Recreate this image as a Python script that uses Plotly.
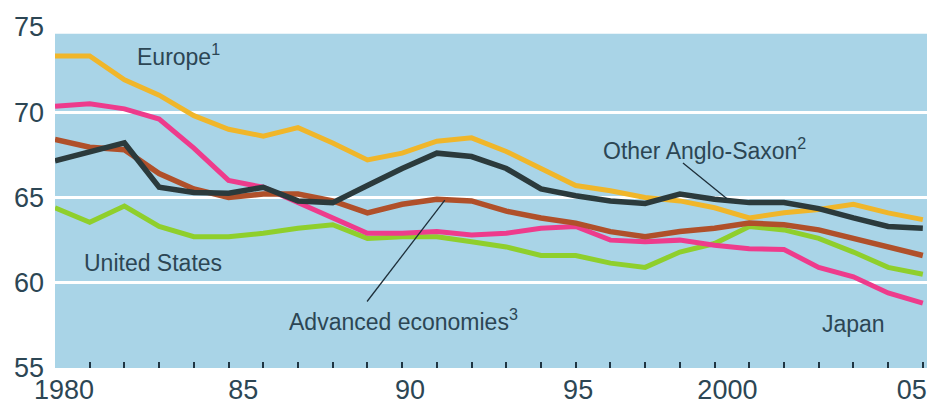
import plotly.graph_objects as go

# ---- data ----
years = list(range(1980, 2006))
europe = [73.3, 73.3, 71.9, 71.0, 69.8, 69.0, 68.6, 69.1, 68.2, 67.2, 67.6, 68.3, 68.5,
          67.7, 66.7, 65.7, 65.4, 65.0, 64.8, 64.4, 63.8, 64.1, 64.3, 64.6, 64.1, 63.7]
japan = [70.35, 70.5, 70.2, 69.6, 67.9, 66.0, 65.6, 64.7, 63.8, 62.9, 62.9, 63.0, 62.8,
         62.9, 63.2, 63.3, 62.5, 62.4, 62.5, 62.2, 62.0, 61.95, 60.9, 60.35, 59.4, 58.8]
advanced = [68.4, 67.95, 67.8, 66.4, 65.5, 65.0, 65.2, 65.2, 64.8, 64.1, 64.6, 64.9, 64.8,
            64.2, 63.8, 63.5, 63.0, 62.7, 63.0, 63.2, 63.5, 63.4, 63.1, 62.6, 62.1, 61.6]
anglo = [67.15, 67.7, 68.2, 65.6, 65.3, 65.25, 65.6, 64.8, 64.7, 65.7, 66.7, 67.6, 67.4,
         66.7, 65.5, 65.1, 64.8, 64.65, 65.2, 64.9, 64.7, 64.7, 64.35, 63.8, 63.3, 63.2]
us = [64.4, 63.55, 64.5, 63.3, 62.7, 62.7, 62.9, 63.2, 63.4, 62.6, 62.7, 62.7, 62.4,
      62.1, 61.6, 61.6, 61.15, 60.9, 61.8, 62.3, 63.3, 63.1, 62.6, 61.8, 60.9, 60.5]

y_ticks = [55, 60, 65, 70, 75]
x_label_years = ["1980", "85", "90", "95", "2000", "05"]

# ---- styling / layout constants ----
FONT = "Liberation Sans, Arial, sans-serif"
TXT = "#2c4654"
BG = "#a9d4e7"
x_label_pos = [1980.26, 1985.42, 1990.23, 1995.07, 1999.37, 2004.68]
XMAX = 2005.12
BLUE_TOP = 74.6

fig = go.Figure()
series = [
    ("United States", us, "#8fcf2c", 5),
    ("Europe", europe, "#f0b62a", 5),
    ("Japan", japan, "#ee3b8c", 5),
    ("Advanced economies", advanced, "#b0502a", 5.5),
    ("Other Anglo-Saxon", anglo, "#2b3a3c", 5.5),
]
for name, vals, col, w in series:
    fig.add_trace(go.Scatter(x=years, y=vals, mode="lines", name=name,
                             line=dict(color=col, width=w), showlegend=False,
                             hoverinfo="skip"))

# invisible trace so the overlay label axis is drawn
fig.add_trace(go.Scatter(x=[years[0]], y=[y_ticks[0]], xaxis="x2", mode="markers",
                         marker=dict(opacity=0), showlegend=False, hoverinfo="skip"))

shapes = [
    dict(type="rect", xref="x", yref="y", x0=1980, x1=XMAX, y0=55, y1=BLUE_TOP,
         fillcolor=BG, line=dict(width=0), layer="below"),
    dict(type="rect", xref="x", yref="y", x0=1980, x1=XMAX, y0=55, y1=55.15,
         fillcolor=BG, line=dict(width=0), layer="between"),
    dict(type="line", xref="x", yref="y", x0=1988.99, y0=58.9, x1=1991.23, y1=64.85,
         line=dict(color="#1e2f3a", width=1.3)),
    dict(type="line", xref="x", yref="y", x0=1998.09, y0=67.03, x1=1999.35, y1=64.94,
         line=dict(color="#1e2f3a", width=1.3)),
]

ann_font = dict(family=FONT, size=23, color=TXT)
annotations = [
    dict(x=1982.3, y=73.35, text="Europe<sup>1</sup>"),
    dict(x=1980.78, y=61.15, text="United States"),
    dict(x=1986.68, y=57.8, text="Advanced economies<sup>3</sup>"),
    dict(x=1995.72, y=67.85, text="Other Anglo-Saxon<sup>2</sup>"),
    dict(x=2002.03, y=57.6, text="Japan"),
]
for a in annotations:
    a.update(xref="x", yref="y", xanchor="left", yanchor="middle",
             showarrow=False, font=ann_font)

fig.update_layout(
    width=927, height=405,
    margin=dict(l=55, r=0, t=27, b=37),
    paper_bgcolor="white", plot_bgcolor="white",
    shapes=shapes, annotations=annotations,
    xaxis=dict(range=[1980, XMAX], tickmode="array", tickvals=years,
               showticklabels=False, ticks="inside", ticklen=6, tickwidth=2,
               tickcolor="#1f3542", layer="above traces",
               showgrid=False, zeroline=False, showline=False),
    xaxis2=dict(overlaying="x", side="bottom", range=[1980, XMAX],
                tickmode="array", tickvals=x_label_pos, ticktext=x_label_years,
                ticks="", ticklabelstandoff=3, showgrid=False, zeroline=False,
                showline=False, tickfont=dict(family=FONT, size=27, color=TXT)),
    yaxis=dict(range=[55, 75], tickmode="array", tickvals=y_ticks,
               ticktext=[str(v) for v in y_ticks], showgrid=True,
               gridcolor="white", gridwidth=3, zeroline=False, showline=False,
               ticks="", ticklabelstandoff=10,
               tickfont=dict(family=FONT, size=27, color=TXT)),
)

fig.write_html("out.html", config={"displayModeBar": False},
               post_script="document.body.style.margin='0';document.body.style.overflow='hidden';")
